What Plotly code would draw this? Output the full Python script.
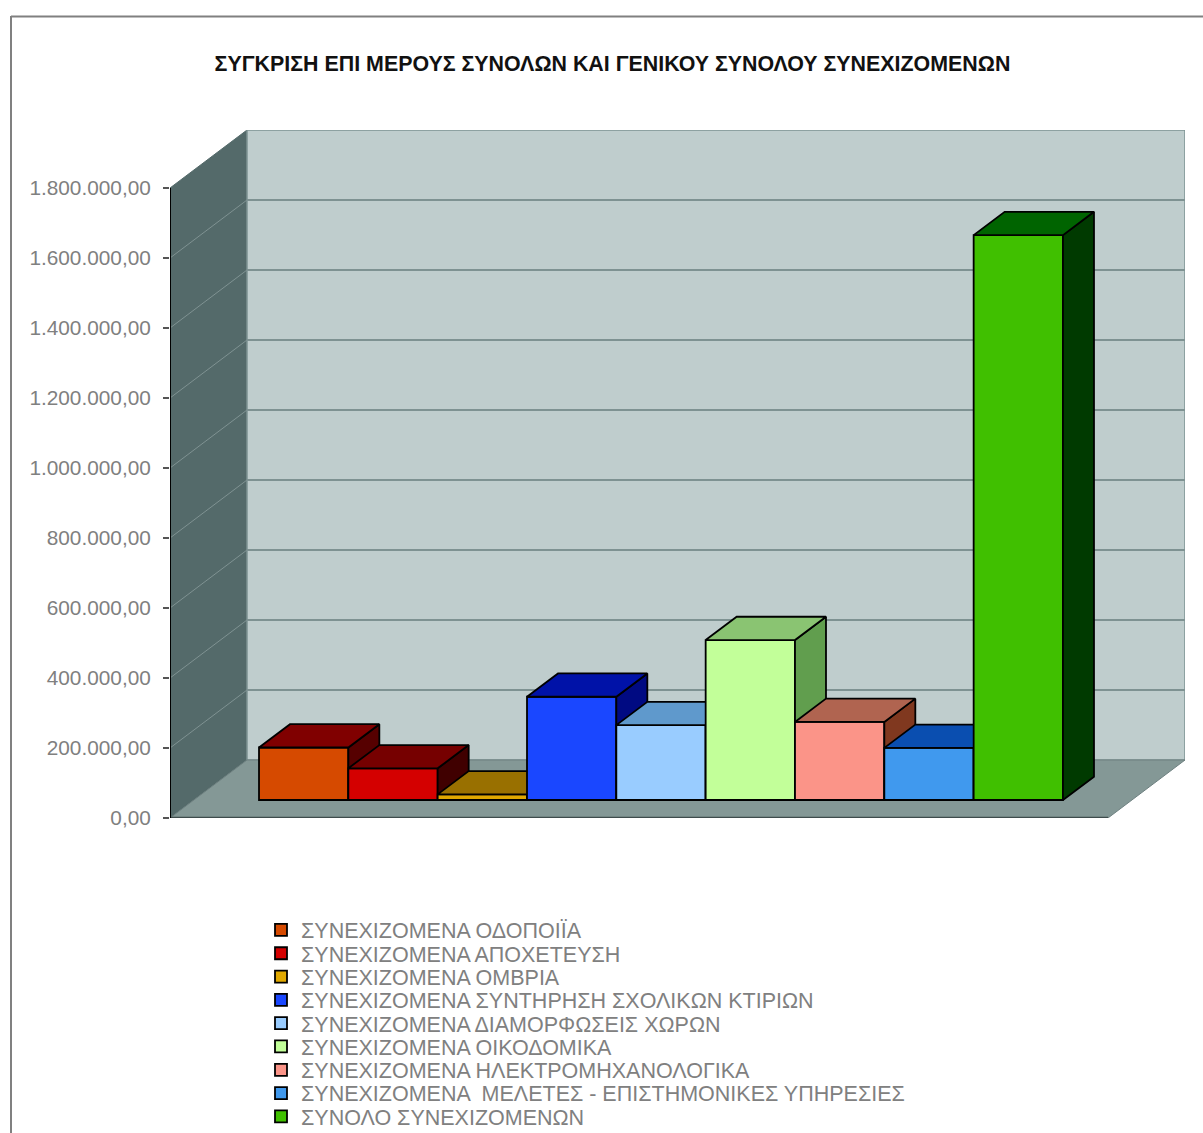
import plotly.graph_objects as go

TITLE = "ΣΥΓΚΡΙΣΗ ΕΠΙ ΜΕΡΟΥΣ ΣΥΝΟΛΩΝ ΚΑΙ ΓΕΝΙΚΟΥ ΣΥΝΟΛΟΥ ΣΥΝΕΧΙΖΟΜΕΝΩΝ"
SERIES_NAMES = [
    "ΣΥΝΕΧΙΖΟΜΕΝΑ ΟΔΟΠΟΙΪΑ",
    "ΣΥΝΕΧΙΖΟΜΕΝΑ ΑΠΟΧΕΤΕΥΣΗ",
    "ΣΥΝΕΧΙΖΟΜΕΝΑ ΟΜΒΡΙΑ",
    "ΣΥΝΕΧΙΖΟΜΕΝΑ ΣΥΝΤΗΡΗΣΗ ΣΧΟΛΙΚΩΝ ΚΤΙΡΙΩΝ",
    "ΣΥΝΕΧΙΖΟΜΕΝΑ ΔΙΑΜΟΡΦΩΣΕΙΣ ΧΩΡΩΝ",
    "ΣΥΝΕΧΙΖΟΜΕΝΑ ΟΙΚΟΔΟΜΙΚΑ",
    "ΣΥΝΕΧΙΖΟΜΕΝΑ ΗΛΕΚΤΡΟΜΗΧΑΝΟΛΟΓΙΚΑ",
    "ΣΥΝΕΧΙΖΟΜΕΝΑ  ΜΕΛΕΤΕΣ - ΕΠΙΣΤΗΜΟΝΙΚΕΣ ΥΠΗΡΕΣΙΕΣ",
    "ΣΥΝΟΛΟ ΣΥΝΕΧΙΖΟΜΕΝΩΝ",
]
VALUES = [150000, 90500, 16000, 295000, 214000, 457000, 223000, 149000, 1614000]
FRONT_COLORS = ["#D64A00", "#D40000", "#E0A800", "#1A47FF", "#99CCFF", "#C2FF99", "#FB9488", "#4099EE", "#40C000"]
TOP_COLORS = ["#800000", "#760000", "#997000", "#0012A8", "#5F99CC", "#8AC472", "#B06450", "#0A4EB0", "#006400"]
SIDE_COLORS = ["#560000", "#400000", "#665000", "#000A82", "#4F80B0", "#619E4E", "#80381F", "#083C8C", "#003A00"]
TICK_VALUES = [0, 200000, 400000, 600000, 800000, 1000000, 1200000, 1400000, 1600000, 1800000]

W, H = 1203, 1133
L, R, T, B = 170, 1185, 130, 818
PX_PER_CAT = 89.33
PX_PER_VAL = 630 / 1800000
X0_PX = 303.67
X_RANGE = [(L - X0_PX) / PX_PER_CAT, (R - X0_PX) / PX_PER_CAT]
Y_RANGE = [0, (B - T) / PX_PER_VAL]
WALL_DX = 77 / PX_PER_CAT
WALL_DY = 58 / PX_PER_VAL
BAR_DX = 31 / PX_PER_CAT
BAR_DY = 23.3 / PX_PER_VAL
BAR_BASE = 18 / PX_PER_VAL
xl, xr = X_RANGE
ytop = TICK_VALUES[-1]

FONT = "Liberation Sans"
fig = go.Figure()


def poly(xs, ys, fill, line, width=1.0, axis=""):
    fig.add_trace(go.Scatter(
        x=xs + xs[:1], y=ys + ys[:1], mode="lines", fill="toself", fillcolor=fill,
        line=dict(color=line, width=width), showlegend=False, hoverinfo="skip",
        xaxis="x" + axis, yaxis="y" + axis))


def path(xs, ys, color, width):
    fig.add_trace(go.Scatter(
        x=xs, y=ys, mode="lines", line=dict(color=color, width=width),
        showlegend=False, hoverinfo="skip", xaxis="x", yaxis="y"))


xb = xl + WALL_DX
xf = xr - WALL_DX
poly([xl, xl, xb, xb], [0, ytop, ytop + WALL_DY, WALL_DY], "#546A6A", "#546A6A")
poly([xb, xr, xr, xb], [ytop + WALL_DY, ytop + WALL_DY, WALL_DY, WALL_DY], "#BFCDCD", "#7E9292", 1.5)
poly([xl, xb, xr, xf], [0, WALL_DY, WALL_DY, 0], "#849896", "#6E8080", 1)
for t in TICK_VALUES[1:-1]:
    path([xl, xb], [t, t + WALL_DY], "#7F9292", 1)
    path([xb, xr], [t + WALL_DY, t + WALL_DY], "#7E9292", 2)
path([xl, xf], [0, 0], "#3E4C4C", 2.5)
path([xl, xl], [0, ytop], "#000000", 2)

for i, (name, v) in enumerate(zip(SERIES_NAMES, VALUES)):
    ax = str(i + 2)
    fig.add_trace(go.Bar(
        x=[i], y=[v], base=[BAR_BASE], width=1, name=name,
        marker=dict(color=FRONT_COLORS[i], line=dict(color="#000000", width=1.8)),
        legend="legend" if i == 0 else f"legend{i + 1}", xaxis="x" + ax, yaxis="y" + ax))
    x0, x1 = i - 0.5, i + 0.5
    y0, y1 = BAR_BASE, BAR_BASE + v
    poly([x1, x1 + BAR_DX, x1 + BAR_DX, x1], [y0, y0 + BAR_DY, y1 + BAR_DY, y1],
         SIDE_COLORS[i], "#000000", 1.8, ax)
    poly([x0, x0 + BAR_DX, x1 + BAR_DX, x1], [y1, y1 + BAR_DY, y1 + BAR_DY, y1],
         TOP_COLORS[i], "#000000", 1.8, ax)

layout = dict(
    width=W, height=H, autosize=False,
    margin=dict(l=L, r=W - R, t=T, b=H - B, autoexpand=False),
    paper_bgcolor="#FFFFFF", plot_bgcolor="rgba(0,0,0,0)",
    separators=",.", barmode="overlay",
    title=dict(text=f"<b>{TITLE}</b>", x=612.5 / W, xanchor="center", xref="container",
               y=1 - 64 / H, yanchor="middle", yref="container",
               font=dict(family=FONT, size=21.4, color="#111111")),
    xaxis=dict(range=X_RANGE, visible=False, fixedrange=True),
    yaxis=dict(range=Y_RANGE, tickmode="array", tickvals=TICK_VALUES, tickformat=",.2f",
               showgrid=False, zeroline=False, showline=False, ticks="outside", ticklen=6,
               tickcolor="#555555", tickwidth=1.5, ticklabelstandoff=8, fixedrange=True,
               tickfont=dict(family=FONT, size=20.8, color="#808080")),
    shapes=[
        dict(type="line", xref="paper", yref="paper",
             x0=(11 - L) / (R - L), x1=(W - L) / (R - L),
             y0=(B - 16.5) / (B - T), y1=(B - 16.5) / (B - T),
             line=dict(color="#808080", width=2)),
        dict(type="line", xref="paper", yref="paper",
             x0=(11 - L) / (R - L), x1=(11 - L) / (R - L),
             y0=(B - 16) / (B - T), y1=(B - H) / (B - T),
             line=dict(color="#808080", width=2)),
    ],
)
for i in range(len(VALUES)):
    n = i + 2
    layout[f"xaxis{n}"] = dict(range=X_RANGE, visible=False, overlaying="x", anchor=f"y{n}", fixedrange=True)
    layout[f"yaxis{n}"] = dict(range=Y_RANGE, visible=False, overlaying="y", anchor=f"x{n}", fixedrange=True)
    key = "legend" if i == 0 else f"legend{i + 1}"
    row_y = 930 + i * 23.3
    layout[key] = dict(
        x=(261 - L) / (R - L), xanchor="left",
        y=(B - row_y) / (B - T), yanchor="middle",
        bgcolor="rgba(0,0,0,0)", borderwidth=0, itemclick=False, itemdoubleclick=False,
        font=dict(family=FONT, size=21.5, color="#808080"))
fig.update_layout(**layout)
fig.write_html("out.html", post_script="document.body.style.margin='0';", config=dict(displayModeBar=False))
